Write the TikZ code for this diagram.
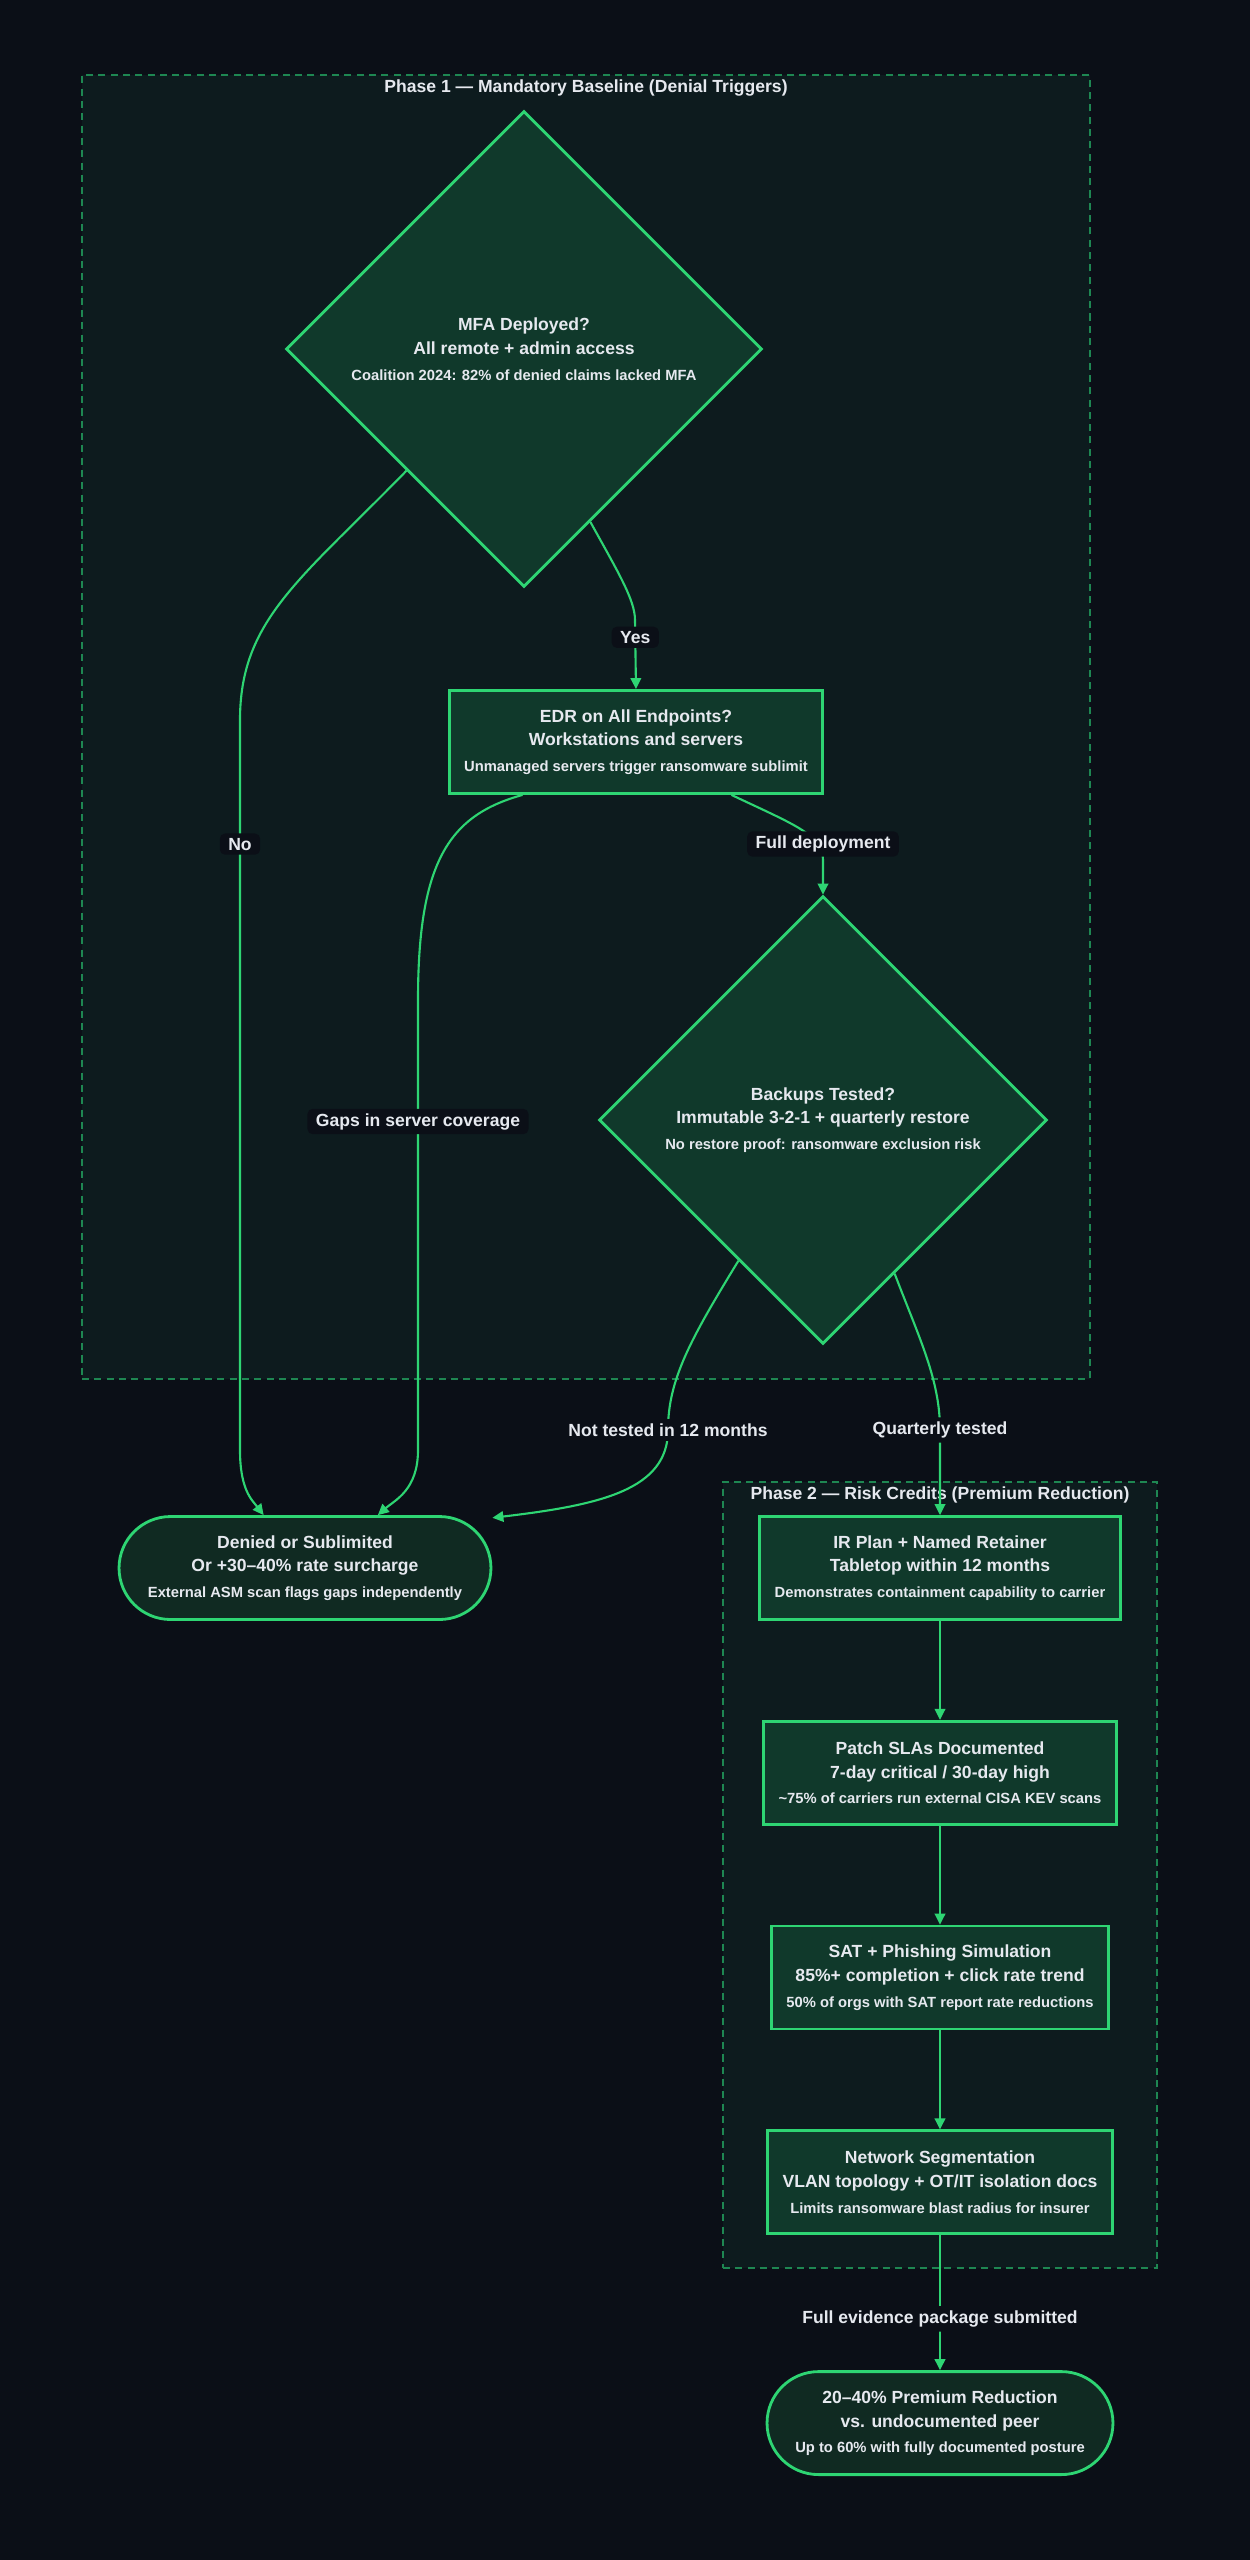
\documentclass[tikz,border=0pt]{standalone}
\usepackage{fontspec}
\setmainfont{Liberation Sans}
\usetikzlibrary{shapes.geometric, arrows.meta, positioning, backgrounds}
\definecolor{colPage}{RGB}{11,15,23}
\definecolor{colPhase}{RGB}{13,27,30}
\definecolor{colNode}{RGB}{16,57,43}
\definecolor{colTerm}{RGB}{16,42,34}
\definecolor{colLine}{RGB}{46,213,115}
\definecolor{colDash}{RGB}{30,135,82}
\definecolor{colText}{RGB}{230,233,239}
\newcommand{\boxtext}[3]{#1\\#2\\[1pt]{\fontsize{8.4}{10}\selectfont #3}}
\tikzset{
    box/.style={rectangle, draw=colLine, fill=colNode, line width=1.6pt,
        minimum height=2.06cm, inner xsep=0.3cm, align=center, text=colText,
        font=\bfseries\fontsize{10}{13.6}\selectfont},
    decision/.style={box, diamond, aspect=1, inner sep=0pt},
    terminal/.style={box, rounded corners=1.03cm, fill=colTerm},
    phase/.style={rectangle, draw=colDash, fill=colPhase, line width=0.9pt,
        dash pattern=on 4pt off 3pt},
    phasetitle/.style={text=colText, font=\bfseries\fontsize{10}{12}\selectfont, inner sep=2pt},
    arrow/.style={-{Triangle[length=2.2mm, width=2.1mm]}, line width=1.2pt, draw=colLine},
    lbl/.style={fill=colPage, rounded corners=3pt, text=colText, inner xsep=0.17cm,
        inner ysep=0.09cm, font=\bfseries\fontsize{10}{12}\selectfont}
}
\begin{document}
\begin{tikzpicture}[x=0.02cm, y=0.02cm, node distance=1.98cm]
    \fill[colPage] (0,0) rectangle (1250,-2560);
    \useasboundingbox (0,0) rectangle (1250,-2560);

    % phase frames
    \node[phase, minimum width=20.16cm, minimum height=26.08cm] (phaseA) at (586,-727) {};
    \node[phasetitle, below=1pt of phaseA.north] {Phase 1 — Mandatory Baseline (Denial Triggers)};
    \node[phase, minimum width=8.68cm, minimum height=15.72cm] (phaseB) at (940,-1875) {};
    \node[phasetitle, below=1pt of phaseB.north] {Phase 2 — Risk Credits (Premium Reduction)};

    % phase 1
    \node[decision, minimum width=9.52cm, minimum height=9.52cm] (mfa) at (524,-349)
        {\boxtext{MFA Deployed?}{All remote + admin access}{Coalition 2024: 82\% of denied claims lacked MFA}};
    \node[box] (edr) at (636,-742)
        {\boxtext{EDR on All Endpoints?}{Workstations and servers}{Unmanaged servers trigger ransomware sublimit}};
    \node[decision, minimum width=8.96cm, minimum height=8.96cm] (bkp) at (823,-1120)
        {\boxtext{Backups Tested?}{Immutable 3-2-1 + quarterly restore}{No restore proof: ransomware exclusion risk}};
    \node[terminal, minimum width=7.44cm] (denied) at (305,-1568)
        {\boxtext{Denied or Sublimited}{Or +30–40\% rate surcharge}{External ASM scan flags gaps independently}};

    % phase 2
    \node[box] (ir) at (940,-1568)
        {\boxtext{IR Plan + Named Retainer}{Tabletop within 12 months}{Demonstrates containment capability to carrier}};
    \node[box, below=of ir] (patch)
        {\boxtext{Patch SLAs Documented}{7-day critical / 30-day high}{\textasciitilde75\% of carriers run external CISA KEV scans}};
    \node[box, below=of patch] (sat)
        {\boxtext{SAT + Phishing Simulation}{85\%+ completion + click rate trend}{50\% of orgs with SAT report rate reductions}};
    \node[box, below=of sat] (net)
        {\boxtext{Network Segmentation}{VLAN topology + OT/IT isolation docs}{Limits ransomware blast radius for insurer}};
    \node[terminal, minimum width=6.92cm, below=2.7cm of net] (final)
        {\boxtext{20–40\% Premium Reduction}{vs. undocumented peer}{Up to 60\% with fully documented posture}};

    \draw[arrow] (mfa.291) .. controls (618,-572) and (635,-600) .. (635,-620)
        -- node[lbl, pos=0.25] {Yes} (edr.north);
    \draw[arrow] (mfa.226) .. controls (300,-580) and (240,-620) .. (240,-720)
        -- node[lbl, pos=0.17] {No} (240,-1450)
        .. controls (240,-1490) and (252,-1500) .. (denied.128);
    \draw[arrow] (edr.331) .. controls (795,-825) and (823,-835) .. (823,-860)
        -- (bkp.north);
    \node[lbl] at (823,-844) {Full deployment};
    \draw[arrow] (edr.205) .. controls (450,-815) and (418,-860) .. (418,-1000)
        -- node[lbl, pos=0.27] {Gaps in server coverage} (418,-1450)
        .. controls (418,-1490) and (395,-1500) .. (denied.36);
    \draw[arrow] (bkp.239) .. controls (690,-1340) and (668,-1380) .. (668,-1430)
        node[lbl] {Not tested in 12 months}
        .. controls (668,-1490) and (600,-1505) .. (denied.15);
    \draw[arrow] (bkp.295) .. controls (920,-1340) and (940,-1380) .. (940,-1430)
        node[lbl] {Quarterly tested} -- (ir.north);
    \draw[arrow] (ir) -- (patch);
    \draw[arrow] (patch) -- (sat);
    \draw[arrow] (sat) -- (net);
    \draw[arrow] (net) -- node[lbl, pos=0.62] {Full evidence package submitted} (final);

\end{tikzpicture}
\end{document}
